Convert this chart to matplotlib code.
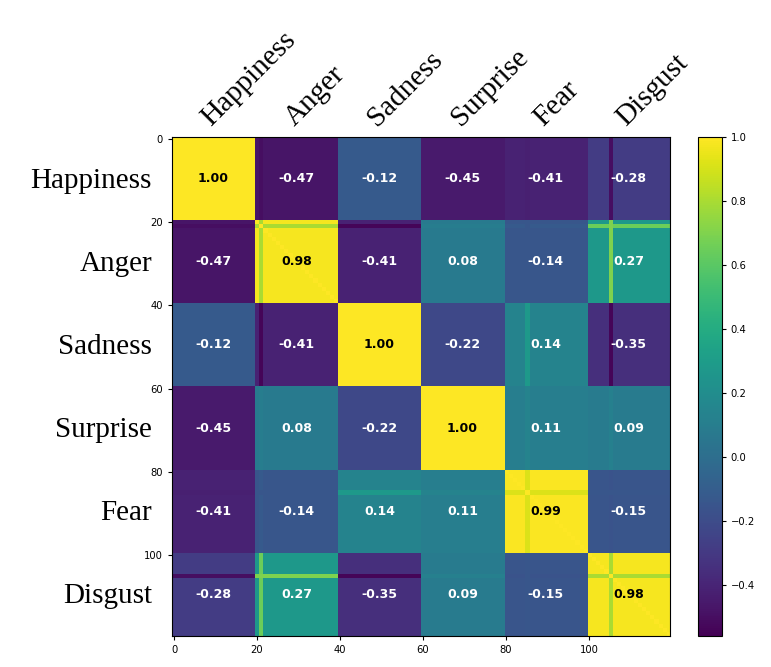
import matplotlib
matplotlib.use("Agg")
import matplotlib.pyplot as plt
import matplotlib.transforms as mtransforms
import numpy as np

emotions = ['Happiness', 'Anger', 'Sadness', 'Surprise', 'Fear', 'Disgust']
samples_per_emotion = 20

# mean correlation between emotion blocks (the printed numbers)
block_corr = [
    [1.00, -0.47, -0.12, -0.45, -0.41, -0.28],
    [-0.47, 0.98, -0.41, 0.08, -0.14, 0.27],
    [-0.12, -0.41, 1.00, -0.22, 0.14, -0.35],
    [-0.45, 0.08, -0.22, 1.00, 0.11, 0.09],
    [-0.41, -0.14, 0.14, 0.11, 0.99, -0.15],
    [-0.28, 0.27, -0.35, 0.09, -0.15, 0.98],
]

# a few single samples that stand out as stripes (correlation with each block)
stripe_index = [21, 105, 85]
stripe_corr = [
    [-0.50, 0.80, -0.54, 0.10, -0.12, 0.65],
    [-0.50, 0.70, -0.54, 0.12, -0.16, 0.80],
    [-0.42, -0.14, 0.28, 0.14, 0.92, -0.14],
]

n = len(emotions) * samples_per_emotion
blocks = np.array(block_corr)
corr = np.kron(blocks, np.ones((samples_per_emotion, samples_per_emotion)))
for idx, vals in zip(stripe_index, stripe_corr):
    row = np.repeat(vals, samples_per_emotion)
    corr[idx, :] = row
    corr[:, idx] = row
np.fill_diagonal(corr, 1.0)

fig = plt.figure(figsize=(7.71, 6.67), dpi=100)
ax = fig.add_axes([0.223, 0.0465, 0.646, 0.748])
cax = fig.add_axes([0.905, 0.0465, 0.031, 0.748])

im = ax.imshow(corr, cmap='viridis', vmin=-0.56, vmax=1.0, aspect='auto',
               interpolation='nearest')
ax.set_xticks(np.arange(0, n, 20))
ax.set_yticks(np.arange(0, n, 20))
ax.tick_params(labelsize=7.2, length=3)

cb = fig.colorbar(im, cax=cax, ticks=[-0.4, -0.2, 0.0, 0.2, 0.4, 0.6, 0.8, 1.0])
cb.ax.tick_params(labelsize=7.2, length=3)
cb.outline.set_linewidth(0.8)

# block values
for i in range(len(emotions)):
    for j in range(len(emotions)):
        v = block_corr[i][j]
        cx = j * samples_per_emotion + samples_per_emotion / 2 - 0.5
        cy = i * samples_per_emotion + samples_per_emotion / 2 - 0.5
        ax.text(cx, cy, f'{v:.2f}', ha='center', va='center',
                fontsize=9, fontweight='bold',
                color='black' if v > 0.5 else 'white')

serif = 'Liberation Serif'
# row labels on the left
trans = mtransforms.blended_transform_factory(fig.transFigure, ax.transData)
for i, name in enumerate(emotions):
    cy = i * samples_per_emotion + samples_per_emotion / 2
    ax.text(0.197, cy, name, transform=trans, ha='right', va='center',
            fontsize=21, family=serif, clip_on=False)

# column labels on top
for j, name in enumerate(emotions):
    cx = j * samples_per_emotion + samples_per_emotion / 2 - 1
    ax.text(cx, -3, name, rotation=45, rotation_mode='anchor',
            ha='left', va='baseline', fontsize=21, family=serif,
            clip_on=False)

fig.savefig('out.png', dpi=100)
